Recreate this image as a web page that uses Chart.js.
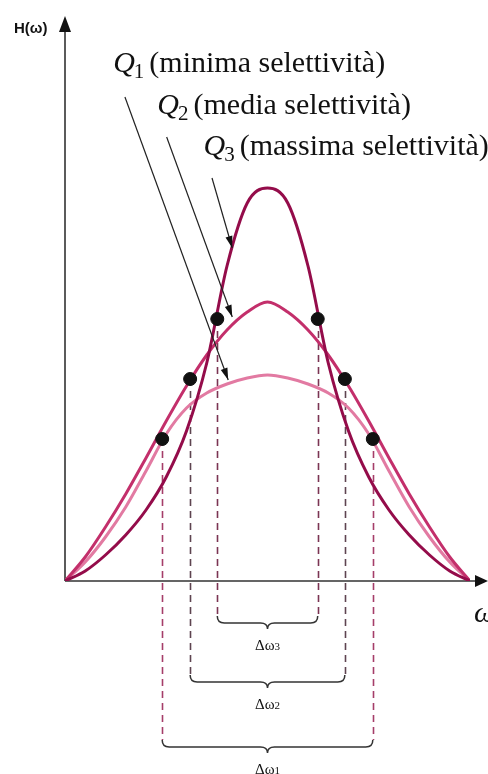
<!DOCTYPE html>
<html>
<head>
<meta charset="utf-8">
<script src="https://cdn.jsdelivr.net/npm/chart.js@4/dist/chart.umd.min.js"></script>
<style>
  html, body { margin: 0; padding: 0; background: #fff; }
  #wrap { width: 488px; height: 774px; }
</style>
</head>
<body>
<div id="wrap"><canvas id="chart" width="488" height="774"></canvas></div>
<script>
// frequency axis (arbitrary units, centre frequency at 5)
var omega = [0, 0.5, 1, 1.5, 2, 2.5, 3, 3.5, 4, 4.5, 5, 5.5, 6, 6.5, 7, 7.5, 8, 8.5, 9, 9.5, 10];

// |H(w)| for the three quality factors
var gainQ1 = [0, 0.19, 0.44, 0.74, 1.10, 1.47, 1.73, 1.88, 1.97, 2.03, 2.06, 2.03, 1.97, 1.88, 1.73, 1.47, 1.10, 0.74, 0.44, 0.19, 0];
var gainQ2 = [0, 0.24, 0.54, 0.87, 1.23, 1.60, 1.95, 2.26, 2.51, 2.69, 2.79, 2.69, 2.51, 2.26, 1.95, 1.60, 1.23, 0.87, 0.54, 0.24, 0];
var gainQ3 = [0, 0.10, 0.26, 0.46, 0.71, 1.04, 1.50, 2.18, 3.15, 3.78, 3.93, 3.78, 3.15, 2.18, 1.50, 1.04, 0.71, 0.46, 0.26, 0.10, 0];

// cut-off points (Q1, Q2, Q3)
var cutLow = [2.40, 3.09, 3.76];
var cutHigh = [7.60, 6.91, 6.24];
var cutGain = [1.42, 2.02, 2.62];

// bandwidth braces below the axis (Q1, Q2, Q3)
var bandSub = ['1', '2', '3'];
var bandLevel = [-1.66, -1.01, -0.42];

// curve captions and where their pointers land
var qSub = ['1', '2', '3'];
var qNote = ['(minima selettività)', '(media selettività)', '(massima selettività)'];
var noteAt = [[1.19, 5.09], [2.28, 4.67], [3.42, 4.26]];
var pointerFrom = [[1.48, 4.84], [2.51, 4.44], [3.63, 4.03]];
var pointerTo = [[4.03, 2.01], [4.13, 2.64], [4.13, 3.33]];

var lineColors = ['#e27aa2', '#c32f6b', '#940c4a'];
var dashColors = ['#a53d69', '#5e4450', '#7b3453'];

function pts(ys) {
  return omega.map(function (x, i) { return { x: x, y: ys[i] }; });
}

var cutPoints = [];
for (var i = 0; i < cutLow.length; i++) {
  cutPoints.push({ x: cutLow[i], y: cutGain[i] });
  cutPoints.push({ x: cutHigh[i], y: cutGain[i] });
}

function arrowHead(ctx, x1, y1, x2, y2, len, half) {
  var a = Math.atan2(y2 - y1, x2 - x1);
  ctx.beginPath();
  ctx.moveTo(x2, y2);
  ctx.lineTo(x2 - len * Math.cos(a) + half * Math.sin(a), y2 - len * Math.sin(a) - half * Math.cos(a));
  ctx.lineTo(x2 - len * Math.cos(a) - half * Math.sin(a), y2 - len * Math.sin(a) + half * Math.cos(a));
  ctx.closePath();
  ctx.fill();
}

function brace(ctx, x1, x2, y) {
  var r = 7, mid = (x1 + x2) / 2;
  ctx.beginPath();
  ctx.moveTo(x1, y - r);
  ctx.quadraticCurveTo(x1, y, x1 + r, y);
  ctx.lineTo(mid - r, y);
  ctx.quadraticCurveTo(mid, y, mid, y + r - 1);
  ctx.quadraticCurveTo(mid, y, mid + r, y);
  ctx.lineTo(x2 - r, y);
  ctx.quadraticCurveTo(x2, y, x2, y - r);
  ctx.stroke();
}

var decor = {
  id: 'decor',
  beforeDatasetsDraw: function (chart) {
    var ctx = chart.ctx, xs = chart.scales.x, ys = chart.scales.y, area = chart.chartArea;
    ctx.save();

    // dashed drop lines from the cut-off points
    ctx.lineWidth = 1.6;
    ctx.setLineDash([7, 5]);
    for (var i = 0; i < cutLow.length; i++) {
      ctx.strokeStyle = dashColors[i];
      var top = ys.getPixelForValue(cutGain[i]);
      var bot = ys.getPixelForValue(bandLevel[i]) - 7;
      [cutLow[i], cutHigh[i]].forEach(function (v) {
        var px = Math.round(xs.getPixelForValue(v)) + 0.5;
        ctx.beginPath();
        ctx.moveTo(px, top);
        ctx.lineTo(px, bot);
        ctx.stroke();
      });
    }
    ctx.setLineDash([]);

    // axes
    var x0 = area.left, y0 = ys.getPixelForValue(0);
    ctx.strokeStyle = '#333';
    ctx.fillStyle = '#111';
    ctx.lineWidth = 1.6;
    ctx.beginPath();
    ctx.moveTo(x0, y0);
    ctx.lineTo(x0, 24);
    ctx.moveTo(x0, y0);
    ctx.lineTo(480, y0);
    ctx.stroke();
    arrowHead(ctx, x0, 40, x0, 16, 16, 6);
    arrowHead(ctx, 460, y0, 488, y0, 13, 6);
    ctx.restore();
  },
  afterDraw: function (chart) {
    var ctx = chart.ctx, xs = chart.scales.x, ys = chart.scales.y;
    ctx.save();

    // axis labels
    ctx.fillStyle = '#111';
    ctx.textBaseline = 'alphabetic';
    ctx.font = 'bold 15px "Liberation Sans", Arial, sans-serif';
    ctx.fillText('H(ω)', 14, 33);
    ctx.font = 'italic 30px "Liberation Serif", "Times New Roman", serif';
    ctx.fillText('ω', 474, 622);

    // braces and bandwidth labels
    ctx.strokeStyle = '#333';
    ctx.lineWidth = 1.5;
    for (var i = 0; i < cutLow.length; i++) {
      var bx1 = xs.getPixelForValue(cutLow[i]);
      var bx2 = xs.getPixelForValue(cutHigh[i]);
      var by = ys.getPixelForValue(bandLevel[i]);
      brace(ctx, bx1, bx2, by);
      var cx = (bx1 + bx2) / 2;
      ctx.font = '15px "Liberation Serif", "Times New Roman", serif';
      var main = 'Δω';
      var w1 = ctx.measureText(main).width;
      ctx.font = '11px "Liberation Serif", "Times New Roman", serif';
      var w2 = ctx.measureText(bandSub[i]).width;
      var sx = cx - (w1 + w2) / 2;
      ctx.font = '15px "Liberation Serif", "Times New Roman", serif';
      ctx.fillText(main, sx, by + 27);
      ctx.font = '11px "Liberation Serif", "Times New Roman", serif';
      ctx.fillText(bandSub[i], sx + w1, by + 27);
    }

    // curve captions with pointers
    for (var k = 0; k < qNote.length; k++) {
      var tx = xs.getPixelForValue(noteAt[k][0]);
      var ty = ys.getPixelForValue(noteAt[k][1]);
      ctx.fillStyle = '#111';
      ctx.font = 'italic 30px "Liberation Serif", "Times New Roman", serif';
      ctx.fillText('Q', tx, ty);
      var wq = ctx.measureText('Q').width;
      ctx.font = '21px "Liberation Serif", "Times New Roman", serif';
      ctx.fillText(qSub[k], tx + wq - 1, ty + 6);
      var ws = ctx.measureText(qSub[k]).width;
      ctx.font = '30px "Liberation Serif", "Times New Roman", serif';
      ctx.fillText(qNote[k], tx + wq + ws + 4, ty);

      var fx = xs.getPixelForValue(pointerFrom[k][0]);
      var fy = ys.getPixelForValue(pointerFrom[k][1]);
      var ex = xs.getPixelForValue(pointerTo[k][0]);
      var ey = ys.getPixelForValue(pointerTo[k][1]);
      ctx.strokeStyle = '#222';
      ctx.lineWidth = 1.2;
      ctx.beginPath();
      ctx.moveTo(fx, fy);
      ctx.lineTo(ex, ey);
      ctx.stroke();
      ctx.fillStyle = '#111';
      arrowHead(ctx, fx, fy, ex, ey, 12, 3.5);
    }
    ctx.restore();
  }
};

function curve(ys, color, order) {
  return {
    type: 'line',
    data: pts(ys),
    borderColor: color,
    borderWidth: 3,
    pointRadius: 0,
    fill: false,
    cubicInterpolationMode: 'monotone',
    order: order
  };
}

new Chart(document.getElementById('chart'), {
  type: 'line',
  data: {
    datasets: [
      {
        type: 'scatter',
        data: cutPoints,
        pointRadius: 6.5,
        pointBackgroundColor: '#111',
        pointBorderColor: '#111',
        showLine: false,
        order: 0
      },
      curve(gainQ3, lineColors[2], 1),
      curve(gainQ2, lineColors[1], 2),
      curve(gainQ1, lineColors[0], 3)
    ]
  },
  options: {
    responsive: false,
    animation: false,
    layout: { padding: { left: 65, right: 18, top: 181, bottom: 193 } },
    scales: {
      x: { type: 'linear', min: 0, max: 10, display: false },
      y: { type: 'linear', min: 0, max: 4, display: false }
    },
    plugins: {
      legend: { display: false },
      tooltip: { enabled: false }
    }
  },
  plugins: [decor]
});
</script>
</body>
</html>
